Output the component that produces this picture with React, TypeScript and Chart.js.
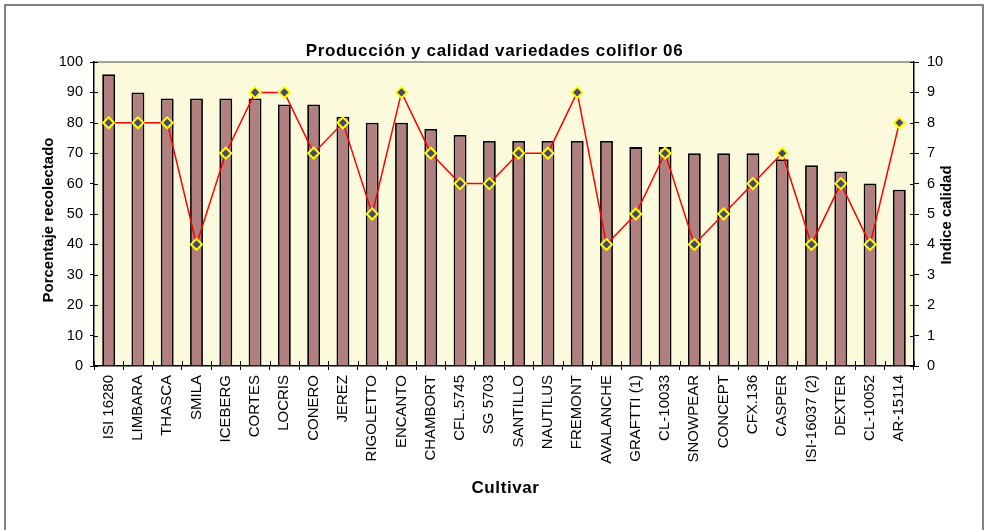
import React, { useEffect, useRef } from "react";
import { Chart, registerables } from "chart.js";

Chart.register(...registerables);

const cultivars = [
  "ISI 16280", "LIMBARA", "THASCA", "SMILA", "ICEBERG", "CORTES", "LOCRIS",
  "CONERO", "JEREZ", "RIGOLETTO", "ENCANTO", "CHAMBORT", "CFL.5745", "SG 5703",
  "SANTILLO", "NAUTILUS", "FREMONT", "AVALANCHE", "GRAFTTI (1)", "CL-10033",
  "SNOWPEAR", "CONCEPT", "CFX.136", "CASPER", "ISI-16037 (2)", "DEXTER",
  "CL-10052", "AR-15114",
];

const harvestPct = [
  96, 90, 88, 88, 88, 88, 86, 86, 82, 80, 80, 78, 76, 74,
  74, 74, 74, 74, 72, 72, 70, 70, 70, 68, 66, 64, 60, 58,
];

const qualityIndex = [
  8, 8, 8, 4, 7, 9, 9, 7, 8, 5, 9, 7, 6, 6,
  7, 7, 9, 4, 5, 7, 4, 5, 6, 7, 4, 6, 4, 8,
];

const titleText = "Producción y calidad variedades coliflor 06";
const xTitle = "Cultivar";
const yLeftTitle = "Porcentaje recolectado";
const yRightTitle = "Indice calidad";

const FONT = "'Liberation Sans', Arial, Helvetica, sans-serif";
const PLOT_BG = "#FCFADC";
const BAR_FILL = "#B07F7E";

const decor = {
  id: "decor",
  beforeDraw(chart: any) {
    const { ctx, chartArea: a } = chart;
    ctx.save();
    ctx.fillStyle = "#ffffff";
    ctx.fillRect(0, 0, chart.width, chart.height);
    ctx.fillStyle = PLOT_BG;
    ctx.fillRect(a.left, a.top, a.right - a.left, a.bottom - a.top);
    // outer frame
    ctx.strokeStyle = "#5a5a5a";
    ctx.lineWidth = 1.5;
    ctx.beginPath();
    ctx.moveTo(5, chart.height + 2);
    ctx.lineTo(5, 5);
    ctx.lineTo(983, 5);
    ctx.lineTo(983, chart.height + 2);
    ctx.stroke();
    // plot area top border
    ctx.strokeStyle = "#808080";
    ctx.lineWidth = 1.5;
    ctx.beginPath();
    ctx.moveTo(a.left, a.top);
    ctx.lineTo(a.right, a.top);
    ctx.stroke();
    ctx.restore();
  },
  afterDraw(chart: any) {
    const { ctx, chartArea: a, scales } = chart;
    ctx.save();
    ctx.strokeStyle = "#000";
    ctx.lineWidth = 1;
    // inner halves of tick marks
    const yl = scales.y;
    yl.ticks.forEach((_: any, i: number) => {
      const y = Math.round(yl.getPixelForTick(i)) + 0.5;
      ctx.beginPath();
      ctx.moveTo(a.left, y);
      ctx.lineTo(a.left + 4, y);
      ctx.stroke();
    });
    const yr = scales.y1;
    yr.ticks.forEach((_: any, i: number) => {
      const y = Math.round(yr.getPixelForTick(i)) + 0.5;
      ctx.beginPath();
      ctx.moveTo(a.right - 4, y);
      ctx.lineTo(a.right, y);
      ctx.stroke();
    });
    const n = cultivars.length;
    for (let i = 0; i <= n; i++) {
      const x = Math.round(a.left + (i * (a.right - a.left)) / n) + 0.5;
      ctx.beginPath();
      ctx.moveTo(x, a.bottom - 5);
      ctx.lineTo(x, a.bottom);
      ctx.stroke();
    }
    // titles
    ctx.fillStyle = "#000";
    ctx.textBaseline = "alphabetic";
    ctx.textAlign = "center";
    ctx.font = `bold 17px ${FONT}`;
    (ctx as any).letterSpacing = "0.65px";
    ctx.fillText(titleText, 494.5, 56);
    ctx.font = `bold 17px ${FONT}`;
    (ctx as any).letterSpacing = "0.6px";
    ctx.fillText(xTitle, 505.5, 492.5);
    (ctx as any).letterSpacing = "0px";
    ctx.font = `bold 15px ${FONT}`;
    ctx.save();
    ctx.translate(52.5, 220);
    ctx.rotate(-Math.PI / 2);
    ctx.fillText(yLeftTitle, 0, 0);
    ctx.restore();
    ctx.save();
    ctx.translate(950.5, 215);
    ctx.rotate(-Math.PI / 2);
    ctx.fillText(yRightTitle, 0, 0);
    ctx.restore();
    ctx.restore();
  },
};

export default function App() {
  const ref = useRef<HTMLCanvasElement | null>(null);
  useEffect(() => {
    if (!ref.current) return;
    const yFont = { family: FONT, size: 14.5 };
    const xFont = { family: FONT, size: 15 };
    const chart = new Chart(ref.current, {
      type: "bar",
      data: {
        labels: cultivars,
        datasets: [
          {
            type: "line",
            label: "Indice calidad",
            data: qualityIndex,
            yAxisID: "y1",
            borderColor: "#FF0000",
            borderWidth: 1.5,
            pointStyle: "rectRot",
            pointRadius: 5.5,
            pointBackgroundColor: "#4A4A68",
            pointBorderColor: "#FFFF00",
            pointBorderWidth: 2,
            tension: 0,
            order: 0,
          } as any,
          {
            type: "bar",
            label: "Porcentaje recolectado",
            data: harvestPct,
            yAxisID: "y",
            backgroundColor: BAR_FILL,
            borderColor: "#000000",
            borderWidth: 1.8,
            barPercentage: 0.44,
            categoryPercentage: 1,
            order: 1,
          } as any,
        ],
      },
      options: {
        animation: false,
        responsive: false,
        maintainAspectRatio: false,
        layout: { padding: { top: 62, left: 0, right: 0, bottom: 0 } },
        plugins: {
          legend: { display: false },
          title: { display: false },
          tooltip: { enabled: false },
        },
        scales: {
          x: {
            type: "category",
            offset: true,
            grid: {
              display: true,
              offset: true,
              drawOnChartArea: false,
              drawTicks: true,
              tickLength: 4,
              color: "#000",
            },
            border: { display: true, color: "#000", width: 1.5 },
            ticks: {
              autoSkip: false,
              minRotation: 90,
              maxRotation: 90,
              padding: 5,
              color: "#000",
              font: xFont,
            },
            afterFit(scale: any) {
              scale.height = 164;
            },
          },
          y: {
            position: "left",
            min: 0,
            max: 100,
            ticks: { stepSize: 10, padding: 7, color: "#000", font: yFont },
            grid: {
              display: true,
              drawOnChartArea: false,
              drawTicks: true,
              tickLength: 4,
              color: "#000",
            },
            border: { display: true, color: "#000", width: 1.5 },
            afterFit(scale: any) {
              scale.width = 94;
            },
          },
          y1: {
            position: "right",
            min: 0,
            max: 10,
            ticks: { stepSize: 1, padding: 8, color: "#000", font: yFont },
            grid: {
              display: true,
              drawOnChartArea: false,
              drawTicks: true,
              tickLength: 5,
              color: "#000",
            },
            border: { display: true, color: "#000", width: 1.5 },
            afterFit(scale: any) {
              scale.width = 71;
            },
          },
        },
      },
      plugins: [decor],
    });
    return () => chart.destroy();
  }, []);

  return (
    <div style={{ position: "absolute", left: 0, top: 0, width: 985, height: 530 }}>
      <canvas ref={ref} width={985} height={530} style={{ width: 985, height: 530, display: "block" }} />
    </div>
  );
}
